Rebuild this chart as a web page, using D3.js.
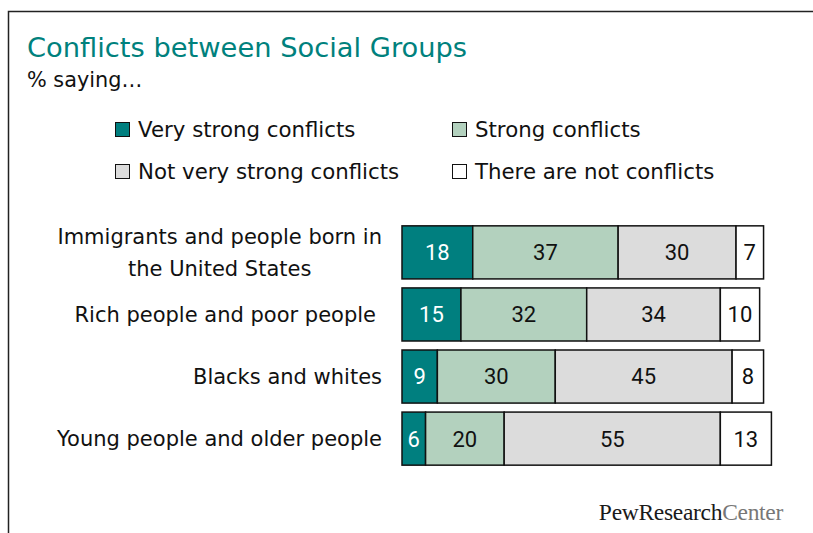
<!DOCTYPE html>
<html><head><meta charset="utf-8">
<script src="https://cdn.jsdelivr.net/npm/d3@7"></script>
<style>body{margin:0;background:#fff}svg{display:block}</style>
</head><body>
<svg id="c" width="813" height="533"></svg>
<script>
const categories = [["Immigrants and people born in","the United States"],["Rich people and poor people"],["Blacks and whites"],["Young people and older people"]];
const seriesNames = ["Very strong conflicts","Strong conflicts","Not very strong conflicts","There are not conflicts"];
const veryStrong = [18,15,9,6];
const strong = [37,32,30,20];
const notVeryStrong = [30,34,45,55];
const noConflicts = [7,10,8,13];
const colors = ["#007f7f","#b3d1be","#dcdcdc","#ffffff"];

const svg = d3.select("#c");
const labelFont = "Tahoma, 'DejaVu Sans', sans-serif";
// frame
svg.append("path").attr("d","M8.5,533 V11.5 H813").attr("fill","none").attr("stroke","#222").attr("stroke-width",1.5);

svg.append("text").attr("x",27).attr("y",57).text("Conflicts between Social Groups")
  .attr("font-family",labelFont).attr("font-size",27.3).attr("fill","#00817d");
svg.append("text").attr("x",27).attr("y",87).text("% saying…")
  .attr("font-family",labelFont).attr("font-size",20.8).attr("fill","#111");

// legend
const legPos = [[115,130],[452,130],[115,172],[452,172]];
seriesNames.forEach((n,i)=>{
  const g = svg.append("g").attr("transform",`translate(${legPos[i][0]},${legPos[i][1]})`);
  g.append("rect").attr("x",0.5).attr("y",-7.5).attr("width",14).attr("height",14).attr("fill",colors[i]).attr("stroke","#111").attr("stroke-width",1);
  g.append("text").attr("x",23).attr("y",0).attr("dy","0.35em").text(n)
    .attr("font-family",labelFont).attr("font-size",21.3).attr("fill","#111");
});

const series = [veryStrong,strong,notVeryStrong,noConflicts];
const x = d3.scaleLinear().domain([0,100]).range([402,402+393]);
const y = d3.scaleBand().domain(d3.range(categories.length)).range([226-4.5,465+4.5]).paddingInner(0.145).paddingOuter(0.07);

categories.forEach((lines,i)=>{
  const cy = y(i)+y.bandwidth()/2;
  let acc = 0;
  series.forEach((s,j)=>{
    const v = s[i];
    svg.append("rect").attr("x",x(acc)).attr("y",y(i)).attr("width",x(acc+v)-x(acc)).attr("height",y.bandwidth())
      .attr("fill",colors[j]).attr("stroke","#111").attr("stroke-width",1.5);
    svg.append("text").attr("x",(x(acc)+x(acc+v))/2).attr("y",cy).attr("dy","0.36em").attr("text-anchor","middle")
      .text(v).attr("font-family","Roboto, sans-serif").attr("font-size",22).attr("fill",j===0?"#fff":"#111");
    acc += v;
  });
  const lx = i===1 ? 376 : 382;
  if(lines.length===1){
    svg.append("text").attr("x",lx).attr("y",cy).attr("dy","0.35em").attr("text-anchor","end").text(lines[0])
      .attr("font-family",labelFont).attr("font-size",21).attr("fill","#111");
  } else {
    const t1 = svg.append("text").attr("x",lx).attr("y",cy-16).attr("dy","0.35em").attr("text-anchor","end").text(lines[0])
      .attr("font-family",labelFont).attr("font-size",21).attr("fill","#111");
    const w = t1.node().getComputedTextLength();
    svg.append("text").attr("x",lx-w/2).attr("y",cy+16).attr("dy","0.35em").attr("text-anchor","middle").text(lines[1])
      .attr("font-family",labelFont).attr("font-size",21).attr("fill","#111");
  }
});

// logo
const logo = svg.append("text").attr("x",783).attr("y",520).attr("text-anchor","end")
  .attr("font-family","'Liberation Serif', serif").attr("font-size",23.5).attr("letter-spacing",-0.3);
logo.append("tspan").text("PewResearch").attr("fill","#1a1a1a");
logo.append("tspan").text("Center").attr("fill","#777");
</script>
</body></html>
